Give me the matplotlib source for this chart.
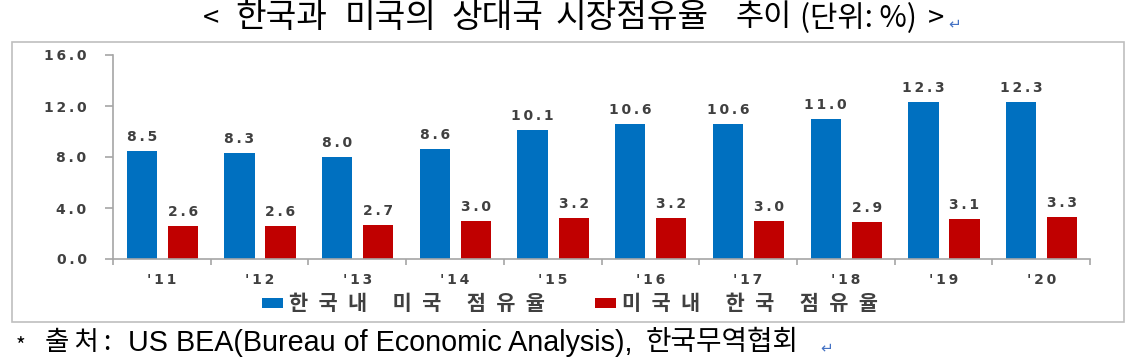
import numpy as np
import matplotlib.pyplot as plt
from matplotlib.patches import Rectangle

plt.rcParams['font.family'] = ['Noto Sans CJK KR', 'DejaVu Sans']

# data
years = ["'11", "'12", "'13", "'14", "'15", "'16", "'17", "'18", "'19", "'20"]
us_in_korea = [8.5, 8.3, 8.0, 8.6, 10.1, 10.6, 10.6, 11.0, 12.3, 12.3]
korea_in_us = [2.6, 2.6, 2.7, 3.0, 3.2, 3.2, 3.0, 2.9, 3.1, 3.3]
series_names = ['한국내 미국 점유율', '미국내 한국 점유율']
y_ticks = [0.0, 4.0, 8.0, 12.0, 16.0]

blue = '#0070C0'
red = '#C00000'
txt = '#404040'
axis_grey = '#A6A6A6'
W, H = 1138, 364


def track(s, sp='\u2009'):
    # the source chart uses a very wide face, so space the glyphs out a little
    return sp.join(s)


fig = plt.figure(figsize=(W / 100, H / 100), dpi=100)
renderer = fig.canvas.get_renderer()


def put(s, x0, y, size, **kw):
    return fig.text(x0 / W, 1 - y / H, s, ha='left', va='center', fontsize=size, **kw)


def fit_text(s, x0, x1, y, size, **kw):
    # put a text at pixel x0 and scale it so it ends at pixel x1
    t = put(s, x0, y, size, **kw)
    bb = t.get_window_extent(renderer)
    t.set_fontsize(size * (x1 - x0) / bb.width)
    return t


# frame around the chart area
fig.patches.append(Rectangle((12 / W, 1 - 322 / H), 1112 / W, 280 / H,
                             transform=fig.transFigure, fill=False,
                             edgecolor='#BFBFBF', linewidth=1.2))

ax = fig.add_axes([113 / W, 105 / H, 977 / W, 204 / H])

x = np.arange(len(years))
w = 0.31
b1 = ax.bar(x - 0.205, us_in_korea, w, color=blue, label=track(series_names[0], '\u2002'))
b2 = ax.bar(x + 0.215, korea_in_us, w, color=red, label=track(series_names[1], '\u2002'))

num_font = dict(fontsize=10, fontweight='bold', color=txt, family='DejaVu Sans')
for bars, vals in ((b1, us_in_korea), (b2, korea_in_us)):
    for rect, v in zip(bars, vals):
        ax.text(rect.get_x() + rect.get_width() / 2, v + 0.55, track(f'{v:.1f}'),
                ha='center', va='bottom', **num_font)

ax.set_xlim(-0.5, len(years) - 0.5)
ax.set_ylim(0, 16)
ax.set_yticks(y_ticks)
ax.set_yticklabels([track(f'{t:.1f}') for t in y_ticks], **num_font)
ax.set_xticks(x)
ax.set_xticklabels([track(y) for y in years], **num_font)
ax.set_xticks(np.arange(len(years) + 1) - 0.5, minor=True)
ax.tick_params(axis='x', which='major', length=0, pad=10)
ax.tick_params(axis='x', which='minor', length=4, color=axis_grey, width=1.2)
ax.tick_params(axis='y', length=6, color=axis_grey, width=1.2, pad=13)

for s in ('top', 'right'):
    ax.spines[s].set_visible(False)
for s in ('left', 'bottom'):
    ax.spines[s].set_color(axis_grey)
    ax.spines[s].set_linewidth(1.2)

ax.legend(loc='center left', bbox_to_anchor=(262 / W, 1 - 304 / H),
          bbox_transform=fig.transFigure, ncol=2, frameon=False,
          borderpad=0, borderaxespad=0,
          handlelength=1.0, handleheight=0.42, handletextpad=0.3, columnspacing=2.4,
          prop={'family': ['Noto Sans CJK KR', 'DejaVu Sans'], 'size': 15, 'weight': 'bold'},
          labelcolor=txt)

# title, pieced together to follow the spacing of the source
ty = 18
put('<', 203, ty, 21)
put('한국과', 235, ty, 24)
put('미국의', 345, ty, 24)
put('상대국', 451, ty, 24)
put('시장점유율', 555, ty, 24)
put('추이', 735, ty, 22)
fit_text('(단위: %)', 800, 917, ty + 1, 16)
put('>', 928, ty, 21)
put('↵', 948, 24, 11, color='#4472C4', family='DejaVu Sans')

# source line
fy = 342
put('*', 16, fy + 5, 15)
put(track('출처:'), 45, fy, 19)
fit_text('US BEA(Bureau of Economic Analysis),', 128, 633, fy + 1, 20, family='Liberation Sans')
put('한국무역협회', 646, fy, 20)
put('↵', 820, 348, 11, color='#4472C4', family='DejaVu Sans')

fig.savefig('out.png', dpi=100)
